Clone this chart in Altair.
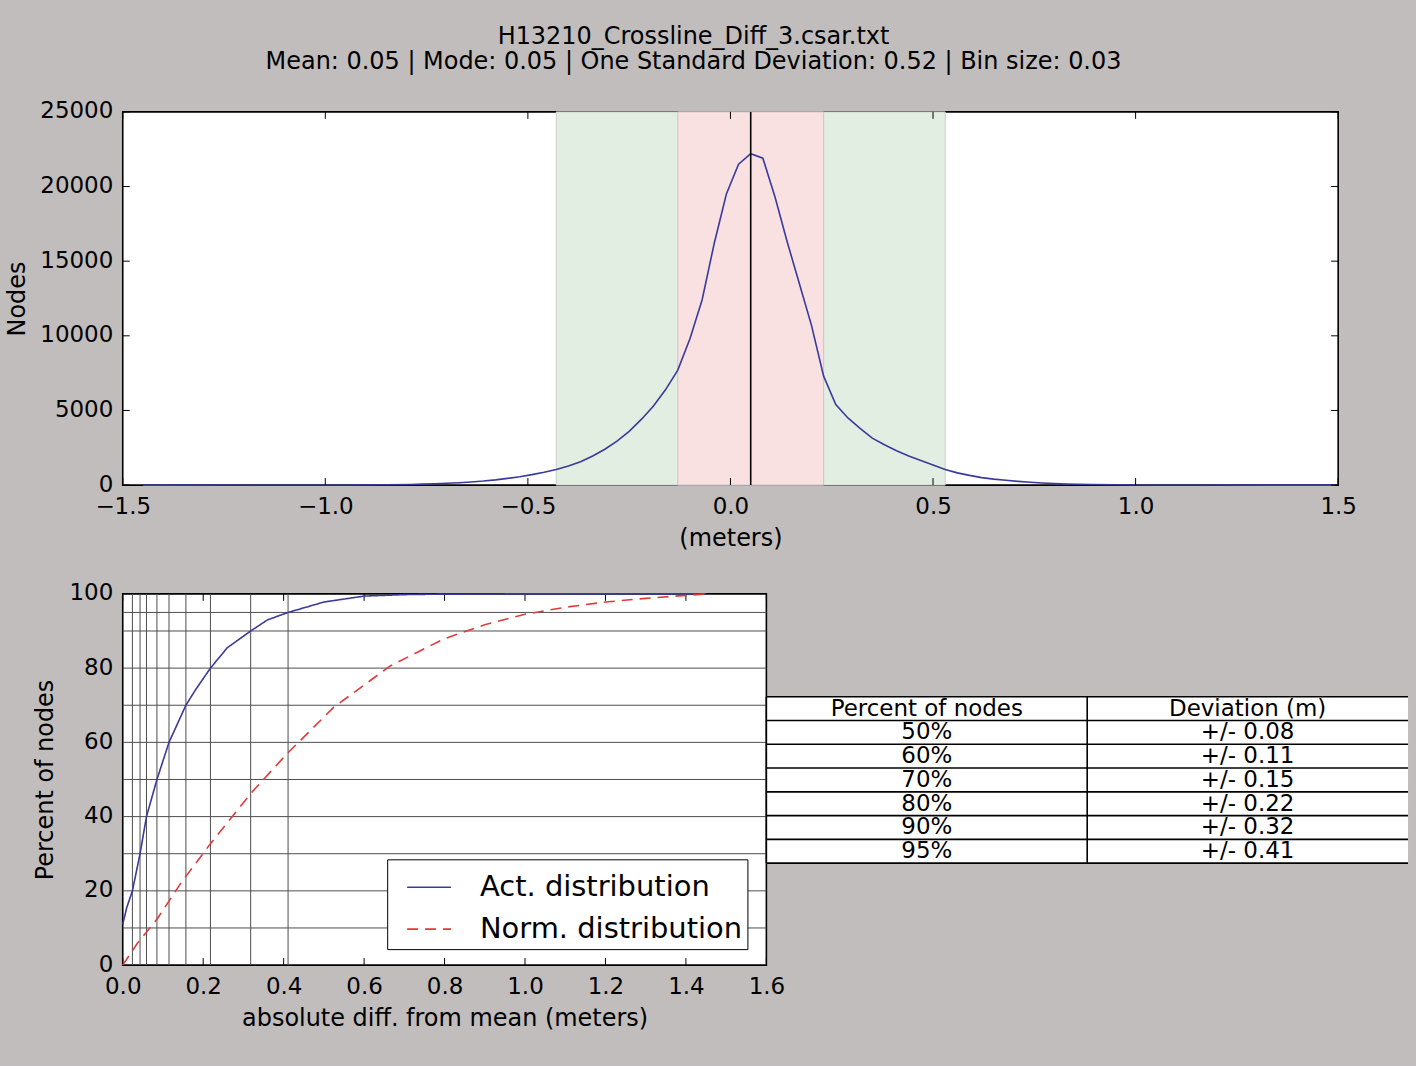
import altair as alt
import pandas as pd

# ---------------- data ----------------
title_lines = ["H13210_Crossline_Diff_3.csar.txt",
               "Mean: 0.05 | Mode: 0.05 | One Standard Deviation: 0.52 | Bin size: 0.03"]

hist_x = [-1.45, -1.06, -0.94, -0.85, -0.79, -0.76, -0.73, -0.70, -0.67, -0.64,
          -0.61, -0.58, -0.55, -0.52, -0.49, -0.46, -0.43, -0.40, -0.37, -0.34,
          -0.31, -0.28, -0.25, -0.22, -0.19, -0.16, -0.13, -0.10, -0.07, -0.04,
          -0.01, 0.02, 0.05, 0.08, 0.11, 0.14, 0.17, 0.20, 0.23, 0.26,
          0.29, 0.32, 0.35, 0.38, 0.41, 0.44, 0.47, 0.50, 0.53, 0.56,
          0.59, 0.62, 0.65, 0.68, 0.71, 0.74, 0.77, 0.80, 0.83, 0.89,
          0.95, 1.04, 1.16, 1.49]
hist_nodes = [0, 3, 10, 25, 45, 65, 90, 120, 160, 210,
              270, 350, 450, 560, 700, 860, 1050, 1280, 1560, 1950,
              2400, 2950, 3600, 4400, 5300, 6400, 7700, 9800, 12400, 16200,
              19500, 21500, 22200, 21900, 19300, 16300, 13500, 10700, 7300, 5400,
              4500, 3800, 3150, 2700, 2300, 1950, 1650, 1350, 1050, 820,
              650, 500, 400, 320, 250, 190, 140, 100, 70, 40,
              20, 8, 3, 0]

mean_value = 0.05
band_outer = [-0.43, 0.53]
band_inner = [-0.13, 0.23]

top_xticks = [-1.5, -1.0, -0.5, 0.0, 0.5, 1.0, 1.5]
top_yticks = [0, 5000, 10000, 15000, 20000, 25000]

act_x = [0.0, 0.01, 0.024, 0.043, 0.059, 0.085, 0.115, 0.157, 0.18, 0.218,
         0.26, 0.318, 0.36, 0.411, 0.5, 0.6, 0.7, 0.8, 1.0, 1.45]
act_pct = [11, 15.5, 20, 30, 40, 50, 60, 70, 74, 80,
           85.5, 90, 93, 95, 97.8, 99.4, 99.8, 99.95, 100, 100]

norm_x = [0.0, 0.036, 0.086, 0.144, 0.218, 0.318, 0.408, 0.524, 0.665, 0.797,
          0.9, 1.0, 1.1, 1.2, 1.3, 1.4, 1.46]
norm_pct = [0, 5.8, 12.5, 22, 32.7, 46.2, 56.9, 69.4, 80.6, 87.8,
            91.7, 94.5, 96.4, 97.8, 98.8, 99.6, 100]

series_names = ["Act. distribution", "Norm. distribution"]

grid_pct = [10, 20, 30, 40, 50, 60, 70, 80, 90, 95]
grid_dev = [0.024, 0.043, 0.059, 0.085, 0.115, 0.157, 0.218, 0.318, 0.411]
bot_xticks = [0.0, 0.2, 0.4, 0.6, 0.8, 1.0, 1.2, 1.4, 1.6]

table_header = ["Percent of nodes", "Deviation (m)"]
table_pct = ["50%", "60%", "70%", "80%", "90%", "95%"]
table_dev = ["+/- 0.08", "+/- 0.11", "+/- 0.15", "+/- 0.22", "+/- 0.32", "+/- 0.41"]

# ---------------- style ----------------
BG = "#c1bdbd"
FONT = "DejaVu Sans"
BLUE = "#3a3a9c"
RED = "#dd3b3b"

TOP_W, TOP_H = 1218, 374
BOT_W, BOT_H = 645, 372
TAB_W = 643
ROW_GAP = 109

# ---------------- top chart ----------------
xs_top = alt.Scale(domain=[-1.5, 1.5], nice=False, zero=False)
ys_top = alt.Scale(domain=[0, 25000], nice=False)
x_top = alt.X("x:Q", scale=xs_top, title="(meters)",
              axis=alt.Axis(values=top_xticks, format=".1f", labelPadding=10, titlePadding=9,
                            labelFlush=False))
y_top = alt.Y("y:Q", scale=ys_top, title="Nodes",
              axis=alt.Axis(values=top_yticks, format="d", labelPadding=10, titlePadding=10,
                            labelFlush=False, labelOffset=-1))

bands = pd.DataFrame({"x": [band_outer[0], band_inner[0]],
                      "x2": [band_outer[1], band_inner[1]],
                      "band": ["outer", "inner"]})
band_outer_layer = alt.Chart(bands[bands.band == "outer"]).mark_rect(
    fill="#e2eee1", stroke="#c8cec8", strokeWidth=1).encode(x=x_top, x2="x2:Q")
band_inner_layer = alt.Chart(bands[bands.band == "inner"]).mark_rect(
    fill="#f9e1e2", stroke="#cfc3c3", strokeWidth=1).encode(x=x_top, x2="x2:Q")

hist_df = pd.DataFrame({"x": hist_x, "y": hist_nodes})
hist_line = alt.Chart(hist_df).mark_line(color=BLUE, strokeWidth=1.6).encode(x=x_top, y=y_top)

mean_rule = alt.Chart(pd.DataFrame({"x": [mean_value]})).mark_rule(
    color="black", strokeWidth=1.6).encode(x=x_top)

txt = pd.DataFrame({"x": top_xticks})
tyt = pd.DataFrame({"y": top_yticks})
tick_style = dict(color="black", strokeWidth=1)
top_ticks = [
    alt.Chart(txt).mark_rule(**tick_style).encode(x=x_top, y=alt.value(TOP_H), y2=alt.value(TOP_H - 7)),
    alt.Chart(txt).mark_rule(**tick_style).encode(x=x_top, y=alt.value(0), y2=alt.value(7)),
    alt.Chart(tyt).mark_rule(**tick_style).encode(y=y_top, x=alt.value(0), x2=alt.value(7)),
    alt.Chart(tyt).mark_rule(**tick_style).encode(y=y_top, x=alt.value(TOP_W), x2=alt.value(TOP_W - 7)),
]

top = alt.layer(band_outer_layer, band_inner_layer, hist_line, mean_rule, *top_ticks).properties(
    width=TOP_W, height=TOP_H,
    title=alt.Title(title_lines, fontSize=24, font=FONT, fontWeight="normal", color="black",
                    anchor="middle", dx=-37, offset=26, lineHeight=25),
)

# ---------------- bottom chart ----------------
xs_bot = alt.Scale(domain=[0, 1.6], nice=False, zero=False)
ys_bot = alt.Scale(domain=[0, 100], nice=False)
x_bot = alt.X("x:Q", scale=xs_bot, title="absolute diff. from mean (meters)",
              axis=alt.Axis(values=bot_xticks, format=".1f", labelPadding=10, titlePadding=9,
                            labelFlush=False))
y_bot = alt.Y("y:Q", scale=ys_bot, title="Percent of nodes",
              axis=alt.Axis(values=[0, 20, 40, 60, 80, 100], format="d", labelPadding=10,
                            titlePadding=11, labelFlush=False, labelOffset=-1))

grid_h = alt.Chart(pd.DataFrame({"y": grid_pct})).mark_rule(color="#4d4d4d", strokeWidth=1).encode(y=y_bot)
grid_v = alt.Chart(pd.DataFrame({"x": grid_dev})).mark_rule(color="#4d4d4d", strokeWidth=1).encode(x=x_bot)

bxt = pd.DataFrame({"x": bot_xticks})
bot_ticks = [
    alt.Chart(bxt).mark_rule(**tick_style).encode(x=x_bot, y=alt.value(BOT_H), y2=alt.value(BOT_H - 7)),
    alt.Chart(bxt).mark_rule(**tick_style).encode(x=x_bot, y=alt.value(0), y2=alt.value(7)),
]

lines_df = pd.concat([
    pd.DataFrame({"x": act_x, "y": act_pct, "series": series_names[0], "o": range(len(act_x))}),
    pd.DataFrame({"x": norm_x, "y": norm_pct, "series": series_names[1], "o": range(len(norm_x))}),
])
# legend is placed in the coordinates of the top plot (shared legend lifted to the top level)
legend = alt.Legend(title=None, orient="none", legendX=265, legendY=266 + TOP_H + ROW_GAP,
                    fillColor="white", strokeColor="black", padding=5,
                    symbolType="stroke", symbolSize=1936, symbolStrokeWidth=1.6, symbolOffset=14,
                    labelFont=FONT, labelFontSize=29, labelColor="black",
                    labelOffset=28, rowPadding=4, labelLimit=400)
cdf_lines = alt.Chart(lines_df).mark_line(strokeWidth=1.6).encode(
    x=x_bot, y=y_bot,
    color=alt.Color("series:N", scale=alt.Scale(domain=series_names, range=[BLUE, RED]), legend=legend),
    strokeDash=alt.StrokeDash("series:N", scale=alt.Scale(domain=series_names, range=[[1, 0], [11, 7]]),
                              legend=legend),
    order="o:Q",
)

bottom = alt.layer(grid_h, grid_v, *bot_ticks, cdf_lines).properties(width=BOT_W, height=BOT_H)

# ---------------- table ----------------
rows_left = [table_header[0]] + table_pct
rows_right = [table_header[1]] + table_dev
n_rows = len(rows_left)
xs_tab = alt.Scale(domain=[0, 2], nice=False, zero=False)
ys_tab = alt.Scale(domain=[-4.33, 11.29], nice=False, zero=False, reverse=True)
xt = alt.X("x:Q", scale=xs_tab, axis=None)
yt = alt.Y("y:Q", scale=ys_tab, axis=None)

tab_bg = alt.Chart(pd.DataFrame({"x": [0], "x2": [2], "y": [0], "y2": [n_rows]})).mark_rect(
    fill="white").encode(x=xt, x2="x2:Q", y=yt, y2="y2:Q")
hlines = alt.Chart(pd.DataFrame({"y": list(range(n_rows + 1)), "x": 0, "x2": 2})).mark_rule(
    color="black", strokeWidth=1.6).encode(y=yt, x=xt, x2="x2:Q")
vlines = alt.Chart(pd.DataFrame({"x": [0, 1], "y": 0, "y2": n_rows})).mark_rule(
    color="black", strokeWidth=1.6).encode(x=xt, y=yt, y2="y2:Q")
cells = pd.DataFrame({
    "x": [0.5] * n_rows + [1.5] * n_rows,
    "y": [r + 0.5 for r in range(n_rows)] * 2,
    "t": rows_left + rows_right,
})
tab_text = alt.Chart(cells).mark_text(font=FONT, fontSize=23, color="black",
                                      align="center", baseline="middle").encode(x=xt, y=yt, text="t:N")
table = alt.layer(tab_bg, hlines, vlines, tab_text).properties(
    width=TAB_W, height=BOT_H,
    view=alt.ViewBackground(fill="transparent", stroke="transparent"))

# ---------------- compose ----------------
chart = alt.vconcat(
    top,
    alt.hconcat(bottom, table, spacing=0, bounds="flush"),
    spacing=ROW_GAP, bounds="flush",
).properties(
    background=BG,
    padding={"left": 5, "top": 23, "right": 6, "bottom": 38},
).configure_view(
    fill="white", stroke="black", strokeWidth=1.6,
).configure_axis(
    labelFont=FONT, labelFontSize=23, labelColor="black",
    titleFont=FONT, titleFontSize=24, titleFontWeight="normal", titleColor="black",
    domain=False, ticks=False, grid=False,
).configure_title(font=FONT)

chart.save("out.html", embed_options={"renderer": "svg", "actions": False})
